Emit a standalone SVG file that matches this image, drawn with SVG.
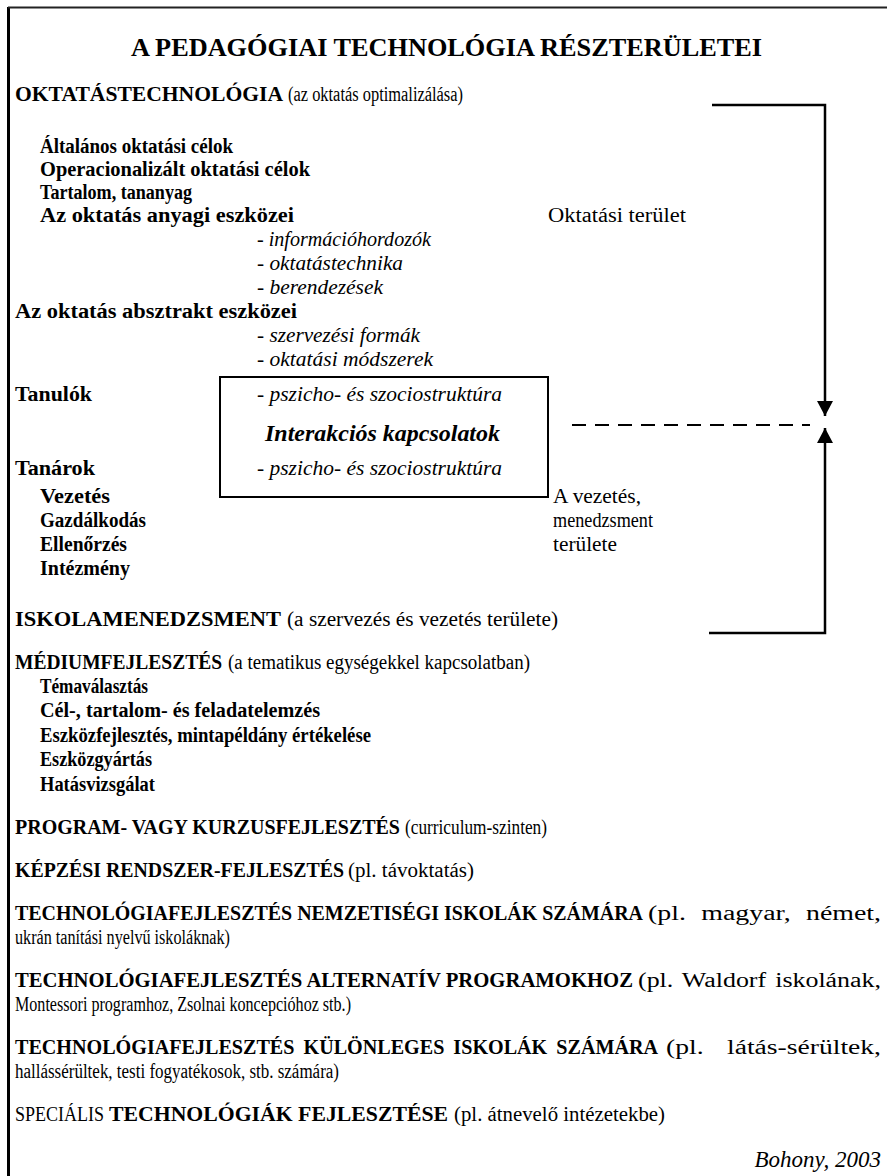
<svg xmlns="http://www.w3.org/2000/svg" width="887" height="1176" viewBox="0 0 887 1176">
<style>
text{font-family:"Liberation Serif","Times New Roman",serif;font-size:20px;fill:#000}
.b{font-weight:bold}
.i{font-style:italic}
.bi{font-weight:bold;font-style:italic;font-size:23px}
.t{font-weight:bold;font-size:26px}
.src{font-style:italic;font-size:23px}
.ln{stroke:#000;stroke-width:2.5;fill:none}
</style>
<defs>
<marker id="ah" markerUnits="userSpaceOnUse" markerWidth="16" markerHeight="16" refX="15" refY="8" orient="auto">
<path d="M0,0 L15,8 L0,16 Z" fill="#000"/>
</marker>
</defs>
<rect width="887" height="1176" fill="#fff"/>
<g id="frame">
<line x1="8.5" y1="7" x2="8.5" y2="1176" stroke="#000" stroke-width="3"/>
<line x1="8" y1="7.5" x2="887" y2="7.5" stroke="#222" stroke-width="2"/>
</g>
<g id="title">
<text class="t" x="131" y="56" textLength="631" lengthAdjust="spacingAndGlyphs">A PEDAGÓGIAI TECHNOLÓGIA RÉSZTERÜLETEI</text>
</g>
<g id="oktatastechnologia">
<text class="b" x="15" y="101" textLength="268" lengthAdjust="spacingAndGlyphs">OKTATÁSTECHNOLÓGIA</text>
<text x="288" y="101" textLength="175" lengthAdjust="spacingAndGlyphs">(az oktatás optimalizálása)</text>
<text class="b" x="40" y="153" textLength="193" lengthAdjust="spacingAndGlyphs">Általános oktatási célok</text>
<text class="b" x="40" y="176" textLength="270" lengthAdjust="spacingAndGlyphs">Operacionalizált oktatási célok</text>
<text class="b" x="40" y="199" textLength="152" lengthAdjust="spacingAndGlyphs">Tartalom, tananyag</text>
<text class="b" x="40" y="222" textLength="254" lengthAdjust="spacingAndGlyphs">Az oktatás anyagi eszközei</text>
<text class="i" x="257" y="246" textLength="174" lengthAdjust="spacingAndGlyphs">- információhordozók</text>
<text class="i" x="257" y="270" textLength="146" lengthAdjust="spacingAndGlyphs">- oktatástechnika</text>
<text class="i" x="257" y="294" textLength="126" lengthAdjust="spacingAndGlyphs">- berendezések</text>
<text class="b" x="15" y="318" textLength="282" lengthAdjust="spacingAndGlyphs">Az oktatás absztrakt eszközei</text>
<text class="i" x="257" y="342" textLength="163" lengthAdjust="spacingAndGlyphs">- szervezési formák</text>
<text class="i" x="257" y="366" textLength="176" lengthAdjust="spacingAndGlyphs">- oktatási módszerek</text>
<text class="b" x="15" y="401" textLength="77" lengthAdjust="spacingAndGlyphs">Tanulók</text>
<text class="b" x="15" y="475" textLength="80" lengthAdjust="spacingAndGlyphs">Tanárok</text>
</g>
<g id="interakcio">
<rect x="220" y="377" width="328" height="120" fill="none" stroke="#000" stroke-width="2"/>
<text class="i" x="257" y="401" textLength="245" lengthAdjust="spacingAndGlyphs">- pszicho- és szociostruktúra</text>
<text class="bi" x="265" y="441" textLength="235" lengthAdjust="spacingAndGlyphs">Interakciós kapcsolatok</text>
<text class="i" x="257" y="475" textLength="245" lengthAdjust="spacingAndGlyphs">- pszicho- és szociostruktúra</text>
</g>
<g id="oktatasi-terulet">
<text x="548" y="222" textLength="138" lengthAdjust="spacingAndGlyphs">Oktatási terület</text>
</g>
<g id="vezetes">
<text class="b" x="40" y="503" textLength="70" lengthAdjust="spacingAndGlyphs">Vezetés</text>
<text class="b" x="40" y="527" textLength="106" lengthAdjust="spacingAndGlyphs">Gazdálkodás</text>
<text class="b" x="40" y="551" textLength="87" lengthAdjust="spacingAndGlyphs">Ellenőrzés</text>
<text class="b" x="40" y="575" textLength="90" lengthAdjust="spacingAndGlyphs">Intézmény</text>
</g>
<g id="menedzsment-terulet">
<text x="553" y="503" textLength="88" lengthAdjust="spacingAndGlyphs">A vezetés,</text>
<text x="553" y="527" textLength="100" lengthAdjust="spacingAndGlyphs">menedzsment</text>
<text x="553" y="551" textLength="64" lengthAdjust="spacingAndGlyphs">területe</text>
</g>
<g id="iskolamenedzsment">
<text class="b" x="15" y="626" textLength="266" lengthAdjust="spacingAndGlyphs">ISKOLAMENEDZSMENT</text>
<text x="287" y="626" textLength="271" lengthAdjust="spacingAndGlyphs">(a szervezés és vezetés területe)</text>
</g>
<g id="mediumfejlesztes">
<text class="b" x="15" y="669" textLength="207" lengthAdjust="spacingAndGlyphs">MÉDIUMFEJLESZTÉS</text>
<text x="228" y="669" textLength="302" lengthAdjust="spacingAndGlyphs">(a tematikus egységekkel kapcsolatban)</text>
<text class="b" x="40" y="693" textLength="108" lengthAdjust="spacingAndGlyphs">Témaválasztás</text>
<text class="b" x="40" y="717" textLength="280" lengthAdjust="spacingAndGlyphs">Cél-, tartalom- és feladatelemzés</text>
<text class="b" x="40" y="742" textLength="331" lengthAdjust="spacingAndGlyphs">Eszközfejlesztés, mintapéldány értékelése</text>
<text class="b" x="40" y="766" textLength="112" lengthAdjust="spacingAndGlyphs">Eszközgyártás</text>
<text class="b" x="40" y="791" textLength="115" lengthAdjust="spacingAndGlyphs">Hatásvizsgálat</text>
</g>
<g id="program">
<text class="b" x="15" y="834" textLength="385" lengthAdjust="spacingAndGlyphs">PROGRAM- VAGY KURZUSFEJLESZTÉS</text>
<text x="405" y="834" textLength="142" lengthAdjust="spacingAndGlyphs">(curriculum-szinten)</text>
</g>
<g id="kepzesi">
<text class="b" x="15" y="877" textLength="329" lengthAdjust="spacingAndGlyphs">KÉPZÉSI RENDSZER-FEJLESZTÉS</text>
<text x="348" y="877" textLength="126" lengthAdjust="spacingAndGlyphs">(pl. távoktatás)</text>
</g>
<g id="nemzetisegi">
<text class="b" x="15" y="920" textLength="628" lengthAdjust="spacingAndGlyphs">TECHNOLÓGIAFEJLESZTÉS NEMZETISÉGI ISKOLÁK SZÁMÁRA</text>
<text x="648" y="920" word-spacing="6" textLength="233" lengthAdjust="spacingAndGlyphs">(pl. magyar, német,</text>
<text x="15" y="944" textLength="215" lengthAdjust="spacingAndGlyphs">ukrán tanítási nyelvű iskoláknak)</text>
</g>
<g id="alternativ">
<text class="b" x="15" y="987" textLength="618" lengthAdjust="spacingAndGlyphs">TECHNOLÓGIAFEJLESZTÉS ALTERNATÍV PROGRAMOKHOZ</text>
<text x="638" y="987" word-spacing="2" textLength="243" lengthAdjust="spacingAndGlyphs">(pl. Waldorf iskolának,</text>
<text x="15" y="1011" textLength="336" lengthAdjust="spacingAndGlyphs">Montessori programhoz, Zsolnai koncepcióhoz stb.)</text>
</g>
<g id="kulonleges">
<text class="b" x="15" y="1054" word-spacing="4" textLength="643" lengthAdjust="spacingAndGlyphs">TECHNOLÓGIAFEJLESZTÉS KÜLÖNLEGES ISKOLÁK SZÁMÁRA</text>
<text x="666" y="1054" word-spacing="12" textLength="215" lengthAdjust="spacingAndGlyphs">(pl. látás-sérültek,</text>
<text x="15" y="1078" textLength="324" lengthAdjust="spacingAndGlyphs">hallássérültek, testi fogyatékosok, stb. számára)</text>
</g>
<g id="specialis">
<text x="15" y="1121" textLength="89" lengthAdjust="spacingAndGlyphs">SPECIÁLIS</text>
<text class="b" x="109" y="1121" textLength="339" lengthAdjust="spacingAndGlyphs">TECHNOLÓGIÁK FEJLESZTÉSE</text>
<text x="454" y="1121" textLength="211" lengthAdjust="spacingAndGlyphs">(pl. átnevelő intézetekbe)</text>
</g>
<g id="source">
<text class="src" x="881" y="1167" text-anchor="end">Bohony, 2003</text>
</g>
<g id="connectors">
<polyline class="ln" points="712,105 825,105 825,416" marker-end="url(#ah)"/>
<polyline class="ln" points="709,633 825,633 825,428" marker-end="url(#ah)"/>
<line x1="572" y1="425" x2="810" y2="425" stroke="#000" stroke-width="2" stroke-dasharray="14,9"/>
</g>
</svg>
